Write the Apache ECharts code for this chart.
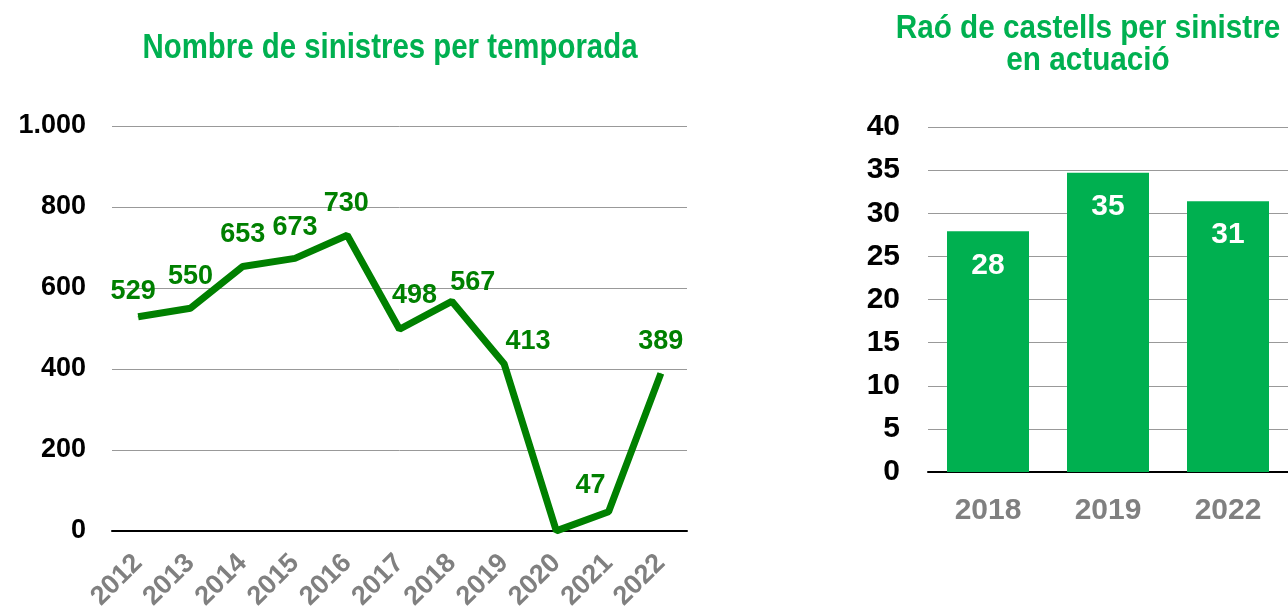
<!DOCTYPE html>
<html lang="ca">
<head>
    <meta charset="UTF-8"/>
    <title>Sinistres per temporada</title>
    <script src="https://cdn.jsdelivr.net/npm/echarts@6/dist/echarts.min.js"></script>
    <style>
        html, body { margin: 0; padding: 0; background: #fff; }
    </style>
</head>
<body>
<div id="main" style="width: 1288px;height:613px;"></div>

<script type="text/javascript">
    // dades del gràfic de línia
    var temporades = ['2012', '2013', '2014', '2015', '2016', '2017', '2018', '2019', '2020', '2021', '2022'];
    var sinistres = [529, 550, 653, 673, 730, 498, 567, 413, 0, 47, 389];
    // desplaçament de cada etiqueta (com a l'original)
    var despl = [[-5, 0], [0, -7], [0, -7], [0, -6], [-1, -7], [15, -9], [21, 6], [24, 3], [0, 0], [-18, -1], [0, -7]];

    // dades del gràfic de barres
    var anysRao = ['2018', '2019', '2022'];
    var rao = [27.9, 34.7, 31.4];

    var verdTitol = '#00B050';
    var verdLinia = '#008000';
    var fontNum = "'Liberation Sans', Arial, sans-serif";

    var myChart = echarts.init(document.getElementById('main'));

    var dadesLinia = sinistres.map(function (v, i) {
        return {
            value: v,
            label: {
                show: temporades[i] !== '2020',
                offset: despl[i]
            }
        };
    });

    // títol estret (Arial Narrow no hi és, s'estreny el text)
    function titol(text, x, y, mida, escala) {
        return {
            type: 'text',
            x: x,
            y: y,
            scaleX: escala,
            style: {
                text: text,
                x: 0,
                y: 0,
                align: 'center',
                verticalAlign: 'middle',
                fill: verdTitol,
                font: 'bold ' + mida + 'px ' + fontNum
            }
        };
    }

    var option = {
        animation: false,
        graphic: [
            titol('Nombre de sinistres per temporada', 390, 48, 35, 0.84),
            titol('Raó de castells per sinistre', 1088, 29, 33, 0.9),
            titol('en actuació', 1088, 61, 33, 0.9)
        ],
        grid: [
            { left: 112, top: 126, width: 575, height: 405 },
            { left: 928, top: 127, width: 372, height: 345 }
        ],
        xAxis: [
            {
                gridIndex: 0,
                type: 'category',
                data: temporades,
                boundaryGap: true,
                axisLine: { lineStyle: { color: '#000', width: 2 } },
                axisTick: { show: false },
                axisLabel: {
                    rotate: 45, margin: 28, color: '#808080',
                    fontFamily: fontNum, fontWeight: 'bold', fontSize: 27
                }
            },
            {
                gridIndex: 1,
                type: 'category',
                data: anysRao,
                axisLine: { lineStyle: { color: '#000', width: 2 } },
                axisTick: { show: false },
                axisLabel: {
                    margin: 24, color: '#808080',
                    fontFamily: fontNum, fontWeight: 'bold', fontSize: 30
                }
            }
        ],
        yAxis: [
            {
                gridIndex: 0,
                type: 'value',
                min: 0, max: 1000, interval: 200,
                axisLine: { show: false },
                axisTick: { show: false },
                splitLine: { lineStyle: { color: '#999', width: 1 } },
                axisLabel: {
                    margin: 26, color: '#000',
                    fontFamily: fontNum, fontWeight: 'bold', fontSize: 27,
                    formatter: function (v) {
                        return v >= 1000 ? (v / 1000) + '.' + ('00' + (v % 1000)).slice(-3) : v;
                    }
                }
            },
            {
                gridIndex: 1,
                type: 'value',
                min: 0, max: 40, interval: 5,
                axisLine: { show: false },
                axisTick: { show: false },
                splitLine: { lineStyle: { color: '#999', width: 1 } },
                axisLabel: {
                    margin: 28, color: '#000',
                    fontFamily: fontNum, fontWeight: 'bold', fontSize: 30
                }
            }
        ],
        series: [
            {
                name: 'Sinistres',
                type: 'line',
                xAxisIndex: 0,
                yAxisIndex: 0,
                data: dadesLinia,
                symbol: 'circle',
                symbolSize: 1,
                showSymbol: true,
                itemStyle: { color: verdLinia },
                lineStyle: { color: verdLinia, width: 7 },
                label: {
                    show: true,
                    position: 'top',
                    distance: 11,
                    color: verdLinia,
                    fontFamily: fontNum,
                    fontWeight: 'bold',
                    fontSize: 27
                }
            },
            {
                name: 'Raó',
                type: 'bar',
                xAxisIndex: 1,
                yAxisIndex: 1,
                data: rao,
                barWidth: 82,
                itemStyle: { color: verdTitol },
                label: {
                    show: true,
                    position: 'insideTop',
                    distance: 19,
                    color: '#fff',
                    fontFamily: fontNum,
                    fontWeight: 'bold',
                    fontSize: 30,
                    formatter: function (p) { return Math.round(p.value); }
                }
            }
        ]
    };

    myChart.setOption(option);
</script>

</body>
</html>
